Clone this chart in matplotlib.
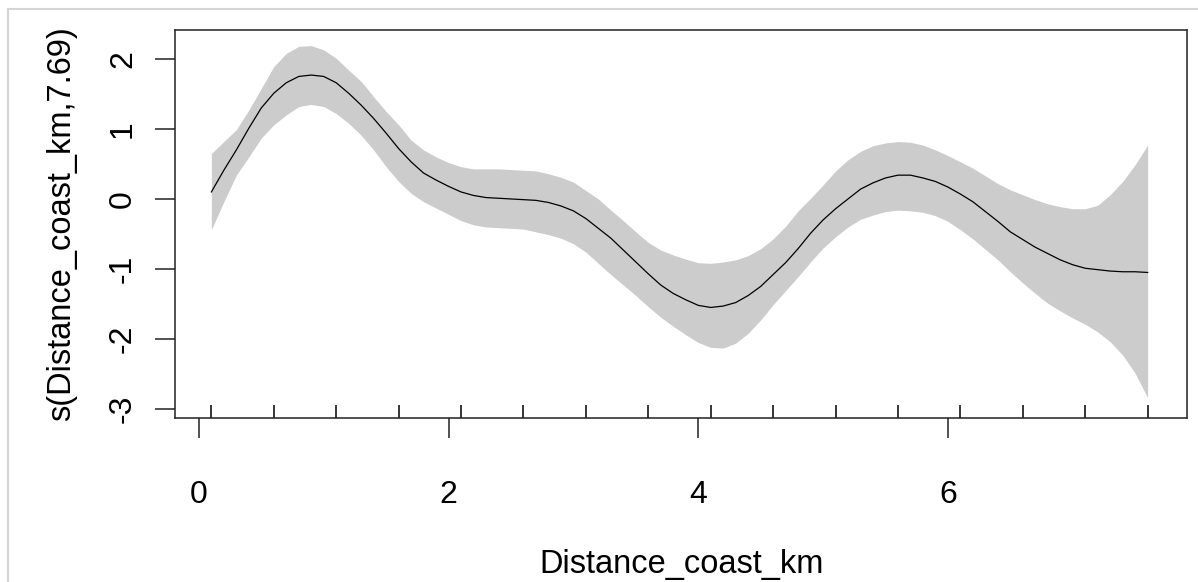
import matplotlib.pyplot as plt
from matplotlib.lines import Line2D

# Smooth term s(Distance_coast_km, 7.69) from a GAM
distance = [0.1, 0.2, 0.3, 0.4, 0.5, 0.6, 0.7, 0.8, 0.9, 1.0,
            1.1, 1.2, 1.3, 1.4, 1.5, 1.6, 1.7, 1.8, 1.9, 2.0,
            2.1, 2.2, 2.3, 2.4, 2.5, 2.6, 2.7, 2.8, 2.9, 3.0,
            3.1, 3.2, 3.3, 3.4, 3.5, 3.6, 3.7, 3.8, 3.9, 4.0,
            4.1, 4.2, 4.3, 4.4, 4.5, 4.6, 4.7, 4.8, 4.9, 5.0,
            5.1, 5.2, 5.3, 5.4, 5.5, 5.6, 5.7, 5.8, 5.9, 6.0,
            6.1, 6.2, 6.3, 6.4, 6.5, 6.6, 6.7, 6.8, 6.9, 7.0,
            7.1, 7.2, 7.3, 7.4, 7.5, 7.6]
fit = [0.10, 0.41, 0.70, 1.01, 1.30, 1.51, 1.66, 1.75, 1.77, 1.75,
       1.66, 1.51, 1.34, 1.15, 0.94, 0.72, 0.53, 0.37, 0.27, 0.18,
       0.10, 0.05, 0.02, 0.01, 0.00, -0.01, -0.02, -0.05, -0.10, -0.17,
       -0.28, -0.42, -0.56, -0.73, -0.90, -1.07, -1.23, -1.35, -1.44, -1.52,
       -1.55, -1.53, -1.48, -1.38, -1.25, -1.08, -0.91, -0.71, -0.49, -0.30,
       -0.14, 0.00, 0.14, 0.23, 0.30, 0.34, 0.34, 0.30, 0.25, 0.17,
       0.07, -0.04, -0.18, -0.32, -0.47, -0.58, -0.69, -0.78, -0.87, -0.94,
       -0.99, -1.01, -1.03, -1.04, -1.04, -1.05]
upper = [0.65, 0.82, 0.99, 1.27, 1.58, 1.89, 2.08, 2.18, 2.19, 2.13,
         2.01, 1.84, 1.68, 1.46, 1.25, 1.06, 0.84, 0.70, 0.60, 0.52,
         0.46, 0.43, 0.43, 0.43, 0.42, 0.41, 0.40, 0.36, 0.31, 0.24,
         0.12, 0.00, -0.16, -0.31, -0.47, -0.62, -0.73, -0.80, -0.86, -0.91,
         -0.92, -0.90, -0.87, -0.81, -0.71, -0.57, -0.39, -0.17, 0.01, 0.20,
         0.40, 0.56, 0.68, 0.76, 0.80, 0.82, 0.81, 0.77, 0.70, 0.62,
         0.53, 0.44, 0.33, 0.22, 0.13, 0.06, -0.01, -0.07, -0.11, -0.14,
         -0.14, -0.09, 0.06, 0.25, 0.49, 0.77]
lower = [-0.44, -0.04, 0.34, 0.60, 0.87, 1.06, 1.20, 1.32, 1.35, 1.32,
         1.22, 1.08, 0.91, 0.70, 0.46, 0.25, 0.08, -0.04, -0.13, -0.22,
         -0.31, -0.37, -0.40, -0.41, -0.42, -0.43, -0.47, -0.51, -0.56, -0.64,
         -0.76, -0.92, -1.08, -1.23, -1.38, -1.54, -1.69, -1.82, -1.94, -2.05,
         -2.12, -2.13, -2.06, -1.92, -1.73, -1.51, -1.31, -1.11, -0.90, -0.70,
         -0.54, -0.40, -0.29, -0.23, -0.18, -0.16, -0.17, -0.19, -0.24, -0.32,
         -0.44, -0.57, -0.72, -0.87, -1.04, -1.20, -1.35, -1.49, -1.60, -1.70,
         -1.79, -1.90, -2.04, -2.23, -2.49, -2.84]

# rug of observed distances
rug = [0.1, 0.6, 1.1, 1.6, 2.1, 2.6, 3.1, 3.6, 4.1, 4.6, 5.1, 5.6, 6.1, 6.6, 7.1, 7.6]

xticks = [0, 2, 4, 6]
yticks = [-3, -2, -1, 0, 1, 2]

plt.rcParams['font.family'] = ['Liberation Sans', 'DejaVu Sans']
plt.rcParams['axes.unicode_minus'] = False

fig = plt.figure(figsize=(11.98, 5.82), dpi=100)
ax = fig.add_axes([0.146, 0.2818, 0.845, 0.6667])

ax.fill_between(distance, lower, upper, color='#cccccc', linewidth=0)
ax.plot(distance, fit, color='black', linewidth=0.9)
ax.vlines(rug, 0, 0.034, transform=ax.get_xaxis_transform(), color='black', linewidth=1.1)

ax.set_xlim(-0.192, 7.917)
ax.set_ylim(-3.129, 2.414)
ax.set_xticks(xticks)
ax.set_yticks(yticks)
ax.set_yticklabels([str(t) for t in yticks], rotation=90, va='center')

ax.tick_params(direction='out', length=14.5, width=1.1, labelsize=23, color='#222222')
ax.tick_params(axis='x', pad=30)
ax.tick_params(axis='y', pad=12)
for s in ax.spines.values():
    s.set_linewidth(1.1)
    s.set_color('#222222')

ax.set_xlabel('Distance_coast_km', fontsize=23.5, labelpad=28)
ax.set_ylabel('s(Distance_coast_km,7.69)', fontsize=23.5, labelpad=22)

# light frame around the screenshot
fig.add_artist(Line2D([8 / 1198, 1.0], [1 - 9 / 582, 1 - 9 / 582], color='#d4d4d4', linewidth=1.5))
fig.add_artist(Line2D([8 / 1198, 8 / 1198], [0, 1 - 9 / 582], color='#d4d4d4', linewidth=1.5))

fig.savefig('out.png', dpi=100)
